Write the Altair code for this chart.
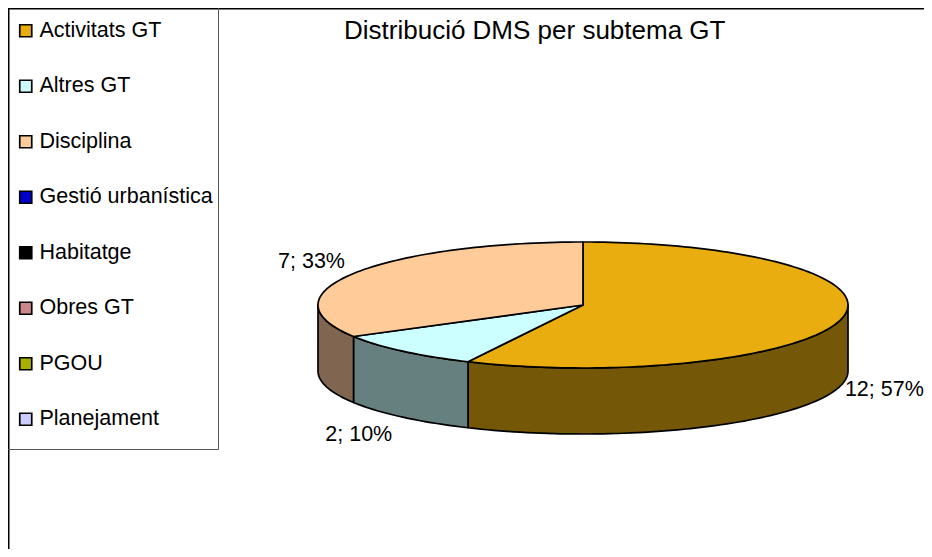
import math
import altair as alt
import pandas as pd

categories = ["Activitats GT", "Altres GT", "Disciplina", "Gestió urbanística",
              "Habitatge", "Obres GT", "PGOU", "Planejament"]
values = [12, 2, 7, 0, 0, 0, 0, 0]
top_colors = ["#EAAD10", "#CCFFFF", "#FFCC99", "#0000CC", "#000000", "#CC8888", "#A8B000", "#CCCCFF"]
wall_colors = ["#755708", "#667F7F", "#806650"]
labels = ["12; 57%", "2; 10%", "7; 33%"]
label_offsets = [(43, 5, True), (-44, 18, True), (-42, -12, False)]
title_text = "Distribució DMS per subtema GT"

W, H = 916, 541
CX, CY = 575.0, 297.0
RX = 265.0
TILT = 63.0 / RX
DEPTH = 66.0 / RX
FONT = "Liberation Sans"

x_scale = alt.Scale(domain=[-CX / RX, (W - CX) / RX], range=[0, W], nice=False, zero=False)
y_scale = alt.Scale(domain=[CY / RX, -(H - CY) / RX], range=[0, H], nice=False, zero=False)


def pt(t, drop=0.0):
    return math.sin(t), math.cos(t) * TILT - drop


def arc_pts(a, b, drop=0.0):
    n = max(2, int(abs(b - a) / math.radians(1.5)))
    return [pt(a + (b - a) * i / n, drop) for i in range(n + 1)]


def poly(points, fill):
    df = pd.DataFrame(points, columns=["x", "y"])
    df["o"] = range(len(df))
    return alt.Chart(df).mark_line(
        fill=fill, stroke="#000000", strokeWidth=1.7, strokeJoin="round", interpolate="linear-closed"
    ).encode(
        x=alt.X("x:Q", scale=x_scale, axis=None),
        y=alt.Y("y:Q", scale=y_scale, axis=None),
        order="o:Q",
    )


total = sum(values)
slices = [(i, v) for i, v in enumerate(values) if v > 0]
angles = []
run = 0
for i, v in slices:
    angles.append((i, run / total * 2 * math.pi, (run + v) / total * 2 * math.pi))
    run += v

layers = []
for (i, a, b), wc in zip(angles, wall_colors):
    lo, hi = max(a, math.pi / 2), min(b, 3 * math.pi / 2)
    if hi > lo:
        layers.append(poly(arc_pts(lo, hi) + arc_pts(hi, lo, DEPTH), wc))
for i, a, b in angles:
    layers.append(poly([(0.0, 0.0)] + arc_pts(a, b), top_colors[i]))

for (i, a, b), text, (dx, dy, front) in zip(angles, labels, label_offsets):
    mx, my = pt((a + b) / 2, DEPTH if front else 0.0)
    layers.append(
        alt.Chart(pd.DataFrame({"x": [mx], "y": [my], "t": [text]})).mark_text(
            font=FONT, fontSize=21.5, color="#000000", dx=dx, dy=dy, align="center", baseline="middle"
        ).encode(
            x=alt.X("x:Q", scale=x_scale, axis=None),
            y=alt.Y("y:Q", scale=y_scale, axis=None),
            text="t:N",
        )
    )

leg_df = pd.DataFrame({"c": categories, "x": [0.0] * 8, "y": [0.0] * 8})
layers.append(
    alt.Chart(leg_df).mark_square(size=1, opacity=0).encode(
        x=alt.X("x:Q", scale=x_scale, axis=None),
        y=alt.Y("y:Q", scale=y_scale, axis=None),
        fill=alt.Fill(
            "c:N",
            scale=alt.Scale(domain=categories, range=top_colors),
            legend=alt.Legend(
                title=None, orient="none", legendX=7, legendY=12, padding=0,
                symbolType="square", symbolSize=144, symbolOpacity=1,
                symbolStrokeColor="#000000", symbolStrokeWidth=1.7,
                labelFont=FONT, labelFontSize=21.5, labelColor="#000000", labelLimit=200,
                labelOffset=3, rowPadding=32.5, columns=1,
            ),
        ),
    )
)


def rule(x1, x2, y1, y2, color, w):
    enc = dict(x=alt.value(x1), y=alt.value(y1))
    if x2 != x1:
        enc["x2"] = alt.value(x2)
    if y2 != y1:
        enc["y2"] = alt.value(y2)
    return alt.Chart(pd.DataFrame({"a": [0]})).mark_rule(color=color, strokeWidth=w).encode(**enc)


layers += [
    rule(0.75, 0.75, 0, H, "#000000", 1.5),
    rule(0, W, 0.75, 0.75, "#000000", 1.5),
    rule(210.5, 210.5, 0, 441.5, "#555555", 1),
    rule(0, 210.5, 441.5, 441.5, "#555555", 1),
]

chart = alt.layer(*layers).resolve_scale(x="shared", y="shared").properties(
    width=W, height=H, padding=0, autosize=alt.AutoSizeParams(type="none"),
    title=alt.TitleParams(title_text, font=FONT, fontSize=26, fontWeight="normal", color="#000000",
                          anchor="start", frame="group", dx=336, dy=54, baseline="middle"),
).configure_view(stroke=None)

chart.save("out.html", embed_options={"renderer": "svg", "actions": False})
